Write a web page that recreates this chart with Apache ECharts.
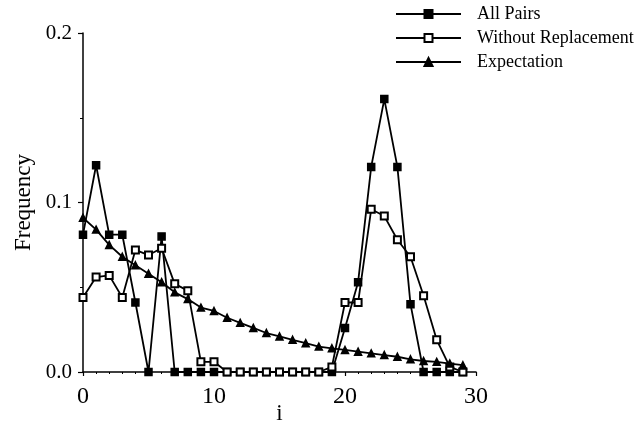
<!DOCTYPE html>
<html>
<head>
<meta charset="utf-8">
<script src="https://cdn.jsdelivr.net/npm/echarts@6/dist/echarts.min.js"></script>
<style>
  html, body { margin: 0; padding: 0; background: #fff; }
  #chart { width: 644px; height: 434px; }
</style>
</head>
<body>
<div id="chart"></div>
<script>
// i = 0..29
const indices = Array.from({ length: 30 }, (_, i) => i)

const allPairs = [
  0.081, 0.122, 0.081, 0.081, 0.041, 0, 0.080, 0, 0, 0,
  0, 0, 0, 0, 0, 0, 0, 0, 0, 0,
  0.026, 0.053, 0.121, 0.161, 0.121, 0.040, 0, 0, 0, 0,
]

const withoutReplacement = [
  0.044, 0.056, 0.057, 0.044, 0.072, 0.069, 0.073, 0.052, 0.048, 0.006,
  0.006, 0, 0, 0, 0, 0, 0, 0, 0, 0.003,
  0.041, 0.041, 0.096, 0.092, 0.078, 0.068, 0.045, 0.019, 0.003, 0,
]

const expectation = [
  0.091, 0.084, 0.075, 0.068, 0.063, 0.058, 0.053, 0.047, 0.043, 0.038,
  0.036, 0.032, 0.029, 0.026, 0.023, 0.021, 0.019, 0.017, 0.015, 0.014,
  0.013, 0.012, 0.011, 0.010, 0.009, 0.0075, 0.0065, 0.006, 0.005, 0.004,
]

const seriesNames = ['All Pairs', 'Without Replacement', 'Expectation']
const xTicks = [0, 10, 20, 30]
const yTicks = [0, 0.1, 0.2]

const font = "'Liberation Serif', 'Times New Roman', serif"
const pairs = values => indices.map(i => [i, values[i]])

const chart = echarts.init(document.getElementById('chart'))

const lineSeries = (name, data, symbol, size) => ({
  name,
  type: 'line',
  data: pairs(data),
  symbol,
  symbolSize: size,
  showAllSymbol: true,
  lineStyle: { color: '#000', width: 1.8 },
  itemStyle: { color: '#000', borderColor: '#000', borderWidth: 1.5 },
  emphasis: { disabled: true },
  animation: false,
})

chart.setOption({
  animation: false,
  textStyle: { fontFamily: font, color: '#000' },
  legend: {
    orient: 'vertical',
    left: 390,
    top: 0,
    itemWidth: 65,
    itemHeight: 10,
    itemGap: 6,
    data: seriesNames,
    textStyle: {
      fontFamily: font,
      fontSize: 18,
      color: '#000',
      lineHeight: 18,
      padding: [0, 0, 0, 11],
    },
  },
  grid: { left: 83, top: 33, width: 393, height: 339, outerBoundsMode: 'none', containLabel: false },
  xAxis: {
    type: 'value',
    min: xTicks[0],
    max: xTicks[xTicks.length - 1],
    interval: 10,
    name: 'i',
    nameLocation: 'middle',
    nameGap: 30,
    nameMoveOverlap: false,
    nameTextStyle: { fontFamily: font, fontSize: 23, color: '#000' },
    axisLine: { show: true, lineStyle: { color: '#000', width: 1.5 } },
    axisTick: { show: true, length: 4, lineStyle: { color: '#000', width: 1.2 } },
    minorTick: { show: true, splitNumber: 10, length: 2, lineStyle: { color: '#000' } },
    splitLine: { show: false },
    axisLabel: { fontFamily: font, fontSize: 24, color: '#000', margin: 13 },
  },
  yAxis: {
    type: 'value',
    min: yTicks[0],
    max: yTicks[yTicks.length - 1],
    interval: 0.1,
    name: 'Frequency',
    nameLocation: 'middle',
    nameGap: 48,
    nameMoveOverlap: false,
    nameTextStyle: { fontFamily: font, fontSize: 23, color: '#000' },
    axisLine: { show: true, lineStyle: { color: '#000', width: 1.5 } },
    axisTick: { show: true, length: 5, lineStyle: { color: '#000', width: 1.2 } },
    minorTick: { show: true, splitNumber: 2, length: 3, lineStyle: { color: '#000' } },
    splitLine: { show: false },
    axisLabel: {
      fontFamily: font,
      fontSize: 21,
      color: '#000',
      margin: 11,
      formatter: v => v.toFixed(1),
    },
  },
  series: [
    lineSeries(seriesNames[0], allPairs, 'rect', 7),
    lineSeries(seriesNames[1], withoutReplacement, 'emptyRect', 7),
    lineSeries(seriesNames[2], expectation, 'triangle', 7),
  ],
})
</script>
</body>
</html>
